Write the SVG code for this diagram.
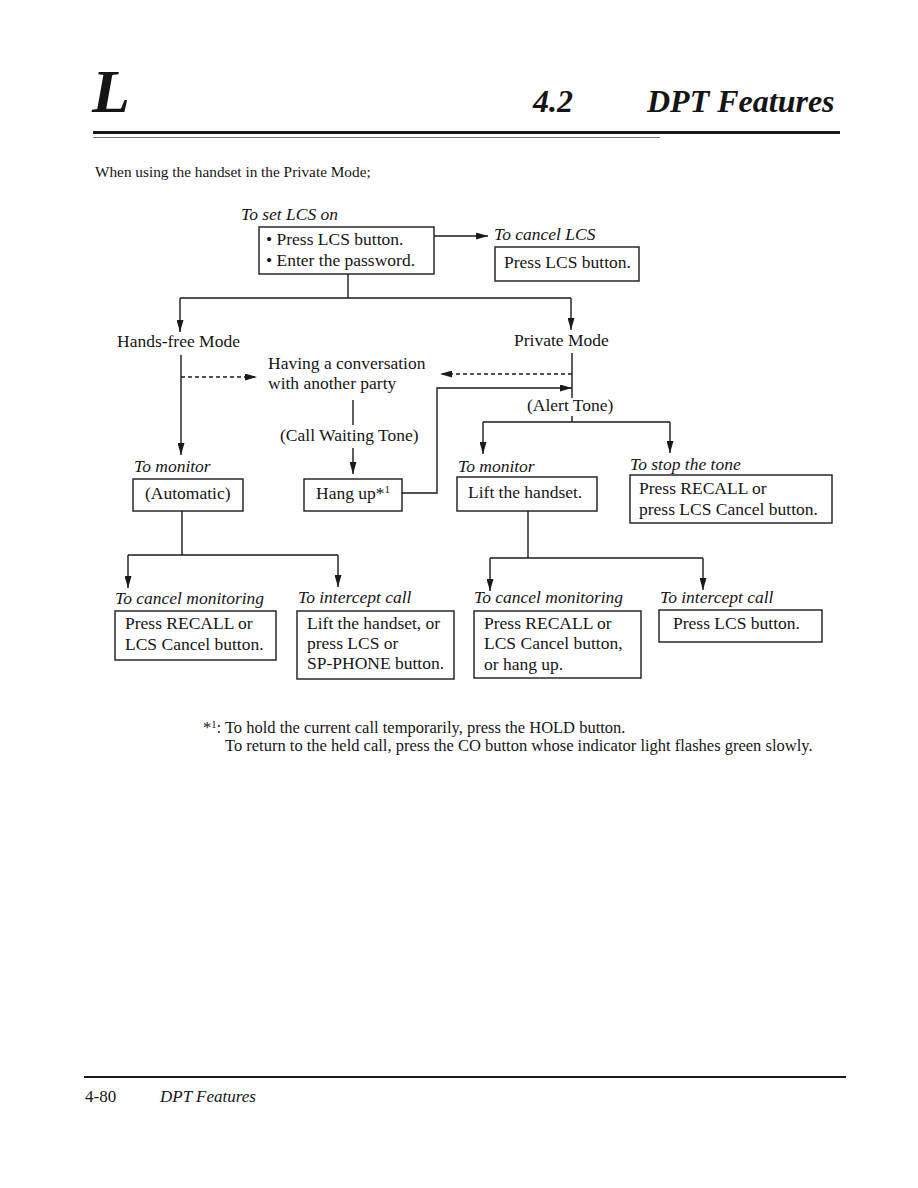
<svg xmlns="http://www.w3.org/2000/svg" width="918" height="1188" viewBox="0 0 918 1188">
<style>
text{font-family:"Liberation Serif","Times New Roman",serif;fill:#151515}
.t{font-size:17.5px}
.i{font-size:17.5px;font-style:italic}
.s{font-size:16.5px}
.hd{font-weight:bold;font-style:italic}
.box{fill:none;stroke:#1a1a1a;stroke-width:1.4}
.ln{fill:none;stroke:#1a1a1a;stroke-width:1.4}
.ar{fill:none;stroke:#1a1a1a;stroke-width:1.4;marker-end:url(#ah)}
.da{fill:none;stroke:#1a1a1a;stroke-width:1.3;stroke-dasharray:4 3;marker-end:url(#ah)}
</style>
<defs>
<marker id="ah" viewBox="0 0 12 7" refX="12" refY="3.5" markerWidth="12" markerHeight="7" orient="auto" markerUnits="userSpaceOnUse">
<path d="M0,0 L12,3.5 L0,7 z" fill="#1a1a1a"/>
</marker>
</defs>
<rect width="918" height="1188" fill="#fff"/>

<g id="header">
<text x="92" y="112" class="hd" font-size="62">L</text>
<text x="533" y="112" class="hd" font-size="32">4.2</text>
<text x="647" y="112" class="hd" font-size="32">DPT Features</text>
<rect x="93" y="131" width="747" height="3" fill="#1a1a1a"/>
<line x1="93" y1="137.5" x2="660" y2="137.5" stroke="#777" stroke-width="1"/>
<text x="95" y="177" font-size="15.3">When using the handset in the Private Mode;</text>
</g>

<g id="connectors">
<path class="ar" d="M434,236 H488"/>
<path class="ln" d="M348,274 V298 M180,298 H571"/>
<path class="ar" d="M180,298 V332"/>
<path class="ar" d="M571,298 V330"/>
<path class="ar" d="M181,355 V455"/>
<path class="da" d="M181,377 H257"/>
<path class="ln" d="M572,353 V398 M572,416 V422 M483,422 H670"/>
<path class="da" d="M572,374 H440"/>
<path class="ar" d="M483,422 V454"/>
<path class="ar" d="M670,422 V453"/>
<path class="ar" d="M402,493 H437 V388 H572"/>
<path class="ln" d="M353,400 V425"/>
<path class="ar" d="M353,448 V474"/>
<path class="ln" d="M182,511 V555 M128,555 H338"/>
<path class="ar" d="M128,555 V588"/>
<path class="ar" d="M338,555 V587"/>
<path class="ln" d="M528,511 V558 M490,558 H703"/>
<path class="ar" d="M490,558 V591"/>
<path class="ar" d="M703,558 V590"/>
</g>

<g id="set-lcs">
<text x="241" y="220" class="i">To set LCS on</text>
<rect class="box" x="259" y="227" width="175" height="47"/>
<text x="266" y="245" class="t">• Press LCS button.</text>
<text x="266" y="266" class="t">• Enter the password.</text>
</g>

<g id="cancel-lcs">
<text x="494" y="240" class="i">To cancel LCS</text>
<rect class="box" x="495" y="247" width="144" height="34"/>
<text x="504" y="268" class="t">Press LCS button.</text>
</g>

<g id="hands-free-mode">
<text x="117" y="347" class="t">Hands-free Mode</text>
</g>

<g id="private-mode">
<text x="514" y="346" class="t">Private Mode</text>
</g>

<g id="conversation">
<text x="268" y="369" class="t">Having a conversation</text>
<text x="268" y="389" class="t">with another party</text>
</g>

<g id="alert-tone">
<text x="527" y="411" class="t">(Alert Tone)</text>
</g>

<g id="call-waiting-tone">
<text x="280" y="441" class="t">(Call Waiting Tone)</text>
</g>

<g id="monitor-auto">
<text x="134" y="472" class="i">To monitor</text>
<rect class="box" x="133" y="479" width="110" height="32"/>
<text x="145" y="499" class="t">(Automatic)</text>
</g>

<g id="hang-up">
<rect class="box" x="304" y="479" width="98" height="32"/>
<text x="316" y="499" class="t">Hang up*<tspan font-size="11" dy="-6">1</tspan></text>
</g>

<g id="monitor-lift">
<text x="458" y="472" class="i">To monitor</text>
<rect class="box" x="457" y="477" width="140" height="34"/>
<text x="468" y="498" class="t">Lift the handset.</text>
</g>

<g id="stop-tone">
<text x="630" y="470" class="i">To stop the tone</text>
<rect class="box" x="630" y="475" width="202" height="48"/>
<text x="639" y="494" class="t">Press RECALL or</text>
<text x="639" y="515" class="t">press LCS Cancel button.</text>
</g>

<g id="cancel-monitoring-1">
<text x="115" y="604" class="i">To cancel monitoring</text>
<rect class="box" x="115" y="611" width="161" height="49"/>
<text x="125" y="629" class="t">Press RECALL or</text>
<text x="125" y="650" class="t">LCS Cancel button.</text>
</g>

<g id="intercept-1">
<text x="298" y="603" class="i">To intercept call</text>
<rect class="box" x="297" y="611" width="157" height="68"/>
<text x="307" y="629" class="t">Lift the handset, or</text>
<text x="307" y="649" class="t">press LCS or</text>
<text x="307" y="669" class="t">SP-PHONE button.</text>
</g>

<g id="cancel-monitoring-2">
<text x="474" y="603" class="i">To cancel monitoring</text>
<rect class="box" x="474" y="611" width="167" height="67"/>
<text x="484" y="629" class="t">Press RECALL or</text>
<text x="484" y="649" class="t">LCS Cancel button,</text>
<text x="484" y="670" class="t">or hang up.</text>
</g>

<g id="intercept-2">
<text x="660" y="603" class="i">To intercept call</text>
<rect class="box" x="659" y="610" width="163" height="32"/>
<text x="673" y="629" class="t">Press LCS button.</text>
</g>

<g id="footnote">
<text x="203" y="733" class="s">*<tspan font-size="10.5" dy="-5">1</tspan><tspan dy="5">: To hold the current call temporarily, press the HOLD button.</tspan></text>
<text x="225" y="751" class="s">To return to the held call, press the CO button whose indicator light flashes green slowly.</text>
</g>

<g id="footer">
<rect x="84" y="1076" width="762" height="2" fill="#1a1a1a"/>
<text x="85" y="1102" font-size="17">4-80</text>
<text x="160" y="1102" font-size="17" font-style="italic">DPT Features</text>
</g>
</svg>
